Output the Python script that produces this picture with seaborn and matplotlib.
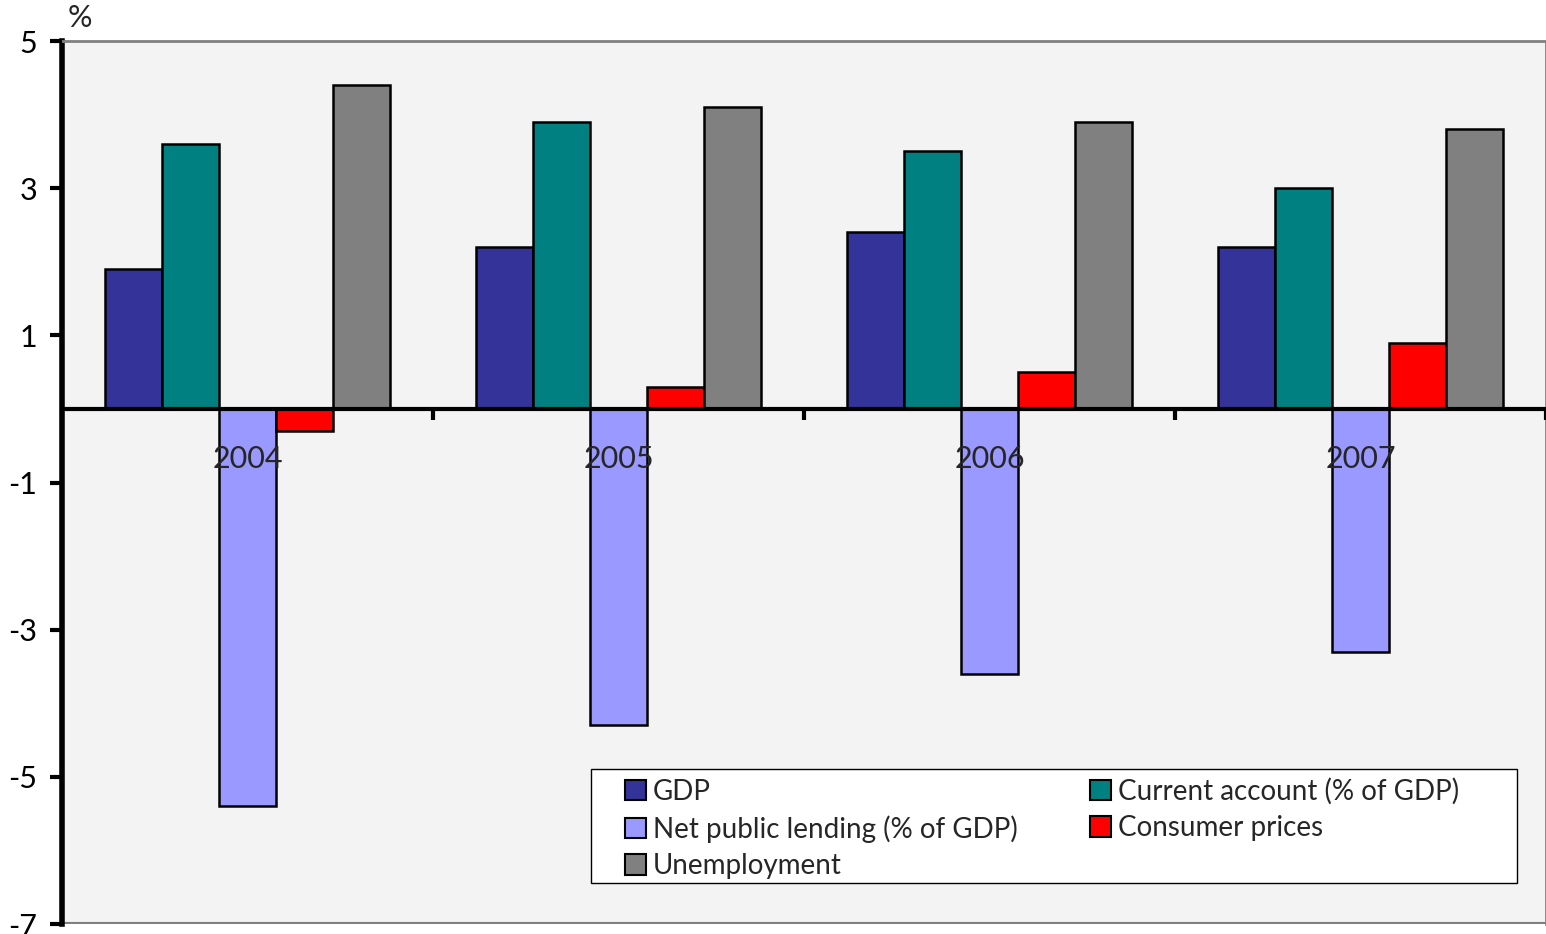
import pandas as pd
import numpy as np
import seaborn as sns
import matplotlib.pyplot as plt
from matplotlib.patches import Patch, Rectangle

years = ["2004", "2005", "2006", "2007"]
series = ["GDP", "Current account (% of GDP)", "Net public lending (% of GDP)",
          "Consumer prices", "Unemployment"]
gdp = [1.9, 2.2, 2.4, 2.2]
current_account = [3.6, 3.9, 3.5, 3.0]
net_lending = [-5.4, -4.3, -3.6, -3.3]
consumer_prices = [-0.3, 0.3, 0.5, 0.9]
unemployment = [4.4, 4.1, 3.9, 3.8]
colors = ["#333399", "#008080", "#9999ff", "#ff0000", "#808080"]

values = [gdp, current_account, net_lending, consumer_prices, unemployment]
rows = []
for name, vals in zip(series, values):
    for y, v in zip(years, vals):
        rows.append({"year": y, "series": name, "value": v})
df = pd.DataFrame(rows)

sns.set_style("white")
plt.rcParams["font.family"] = ["Lato", "DejaVu Sans"]

fig = plt.figure(figsize=(15.46, 9.34), dpi=100)
ax = fig.add_axes([62 / 1546, 1 - 924 / 934, 1 - 62 / 1546, (924 - 41) / 934])
ax.set_facecolor("#f3f3f3")

sns.barplot(data=df, x="year", y="value", hue="series", hue_order=series,
            palette=colors, width=0.77, edgecolor="black", linewidth=1.8,
            saturation=1, legend=False, ax=ax)
ax.set_axisbelow(False)

ax.set_ylim(-7, 5)
ax.set_xlim(-0.5, 3.5)
ax.set_yticks([5, 3, 1, -1, -3, -5, -7])
ax.set_yticklabels(["5", "3", "1", "-1", "-3", "-5", "-7"])
ax.tick_params(axis="y", direction="out", length=9, width=3, labelsize=22,
               left=True, pad=9, colors="black")

# zero line with year labels underneath, ticks between groups
ax.spines["bottom"].set_position(("data", 0))
ax.spines["bottom"].set_linewidth(3)
ax.spines["bottom"].set_color("black")
ax.set_xticks(range(4))
ax.set_xticklabels(years)
ax.tick_params(axis="x", which="major", length=0, pad=26, labelsize=22)
ax.set_xticks([0.5, 1.5, 2.5, 3.5], minor=True)
ax.tick_params(axis="x", which="minor", direction="out", length=8, width=3,
               bottom=True, color="black")

ax.spines["left"].set_linewidth(4)
ax.spines["left"].set_color("black")
for s in ["top", "right"]:
    ax.spines[s].set_color("#808080")
    ax.spines[s].set_linewidth(2)
ax.axhline(-7, color="#808080", linewidth=3, zorder=0)

ax.set_xlabel("")
ax.set_ylabel("")
fig.text(68 / 1546, 1 - 18 / 934, "%", fontsize=22, va="center", ha="left")

# legend box
box = Rectangle((529 / 1484, 1 - 842 / 883), 926 / 1484, 114 / 883,
                transform=ax.transAxes, facecolor="white", edgecolor="black",
                linewidth=1, zorder=6)
ax.add_patch(box)

order = [0, 2, 4, 1, 3]
handles = [Patch(facecolor=colors[i], edgecolor="black", linewidth=1.5, label=series[i])
           for i in order]
leg = ax.legend(handles=handles, ncol=2, loc="upper left",
                bbox_to_anchor=(563 / 1484, 1 - 737 / 883),
                fontsize=20, frameon=False,
                handlelength=0.75, handleheight=0.75, handletextpad=0.25,
                labelspacing=0.37, borderaxespad=0, borderpad=0,
                columnspacing=2.6)
leg.set_zorder(7)

fig.savefig("out.png", dpi=100)
